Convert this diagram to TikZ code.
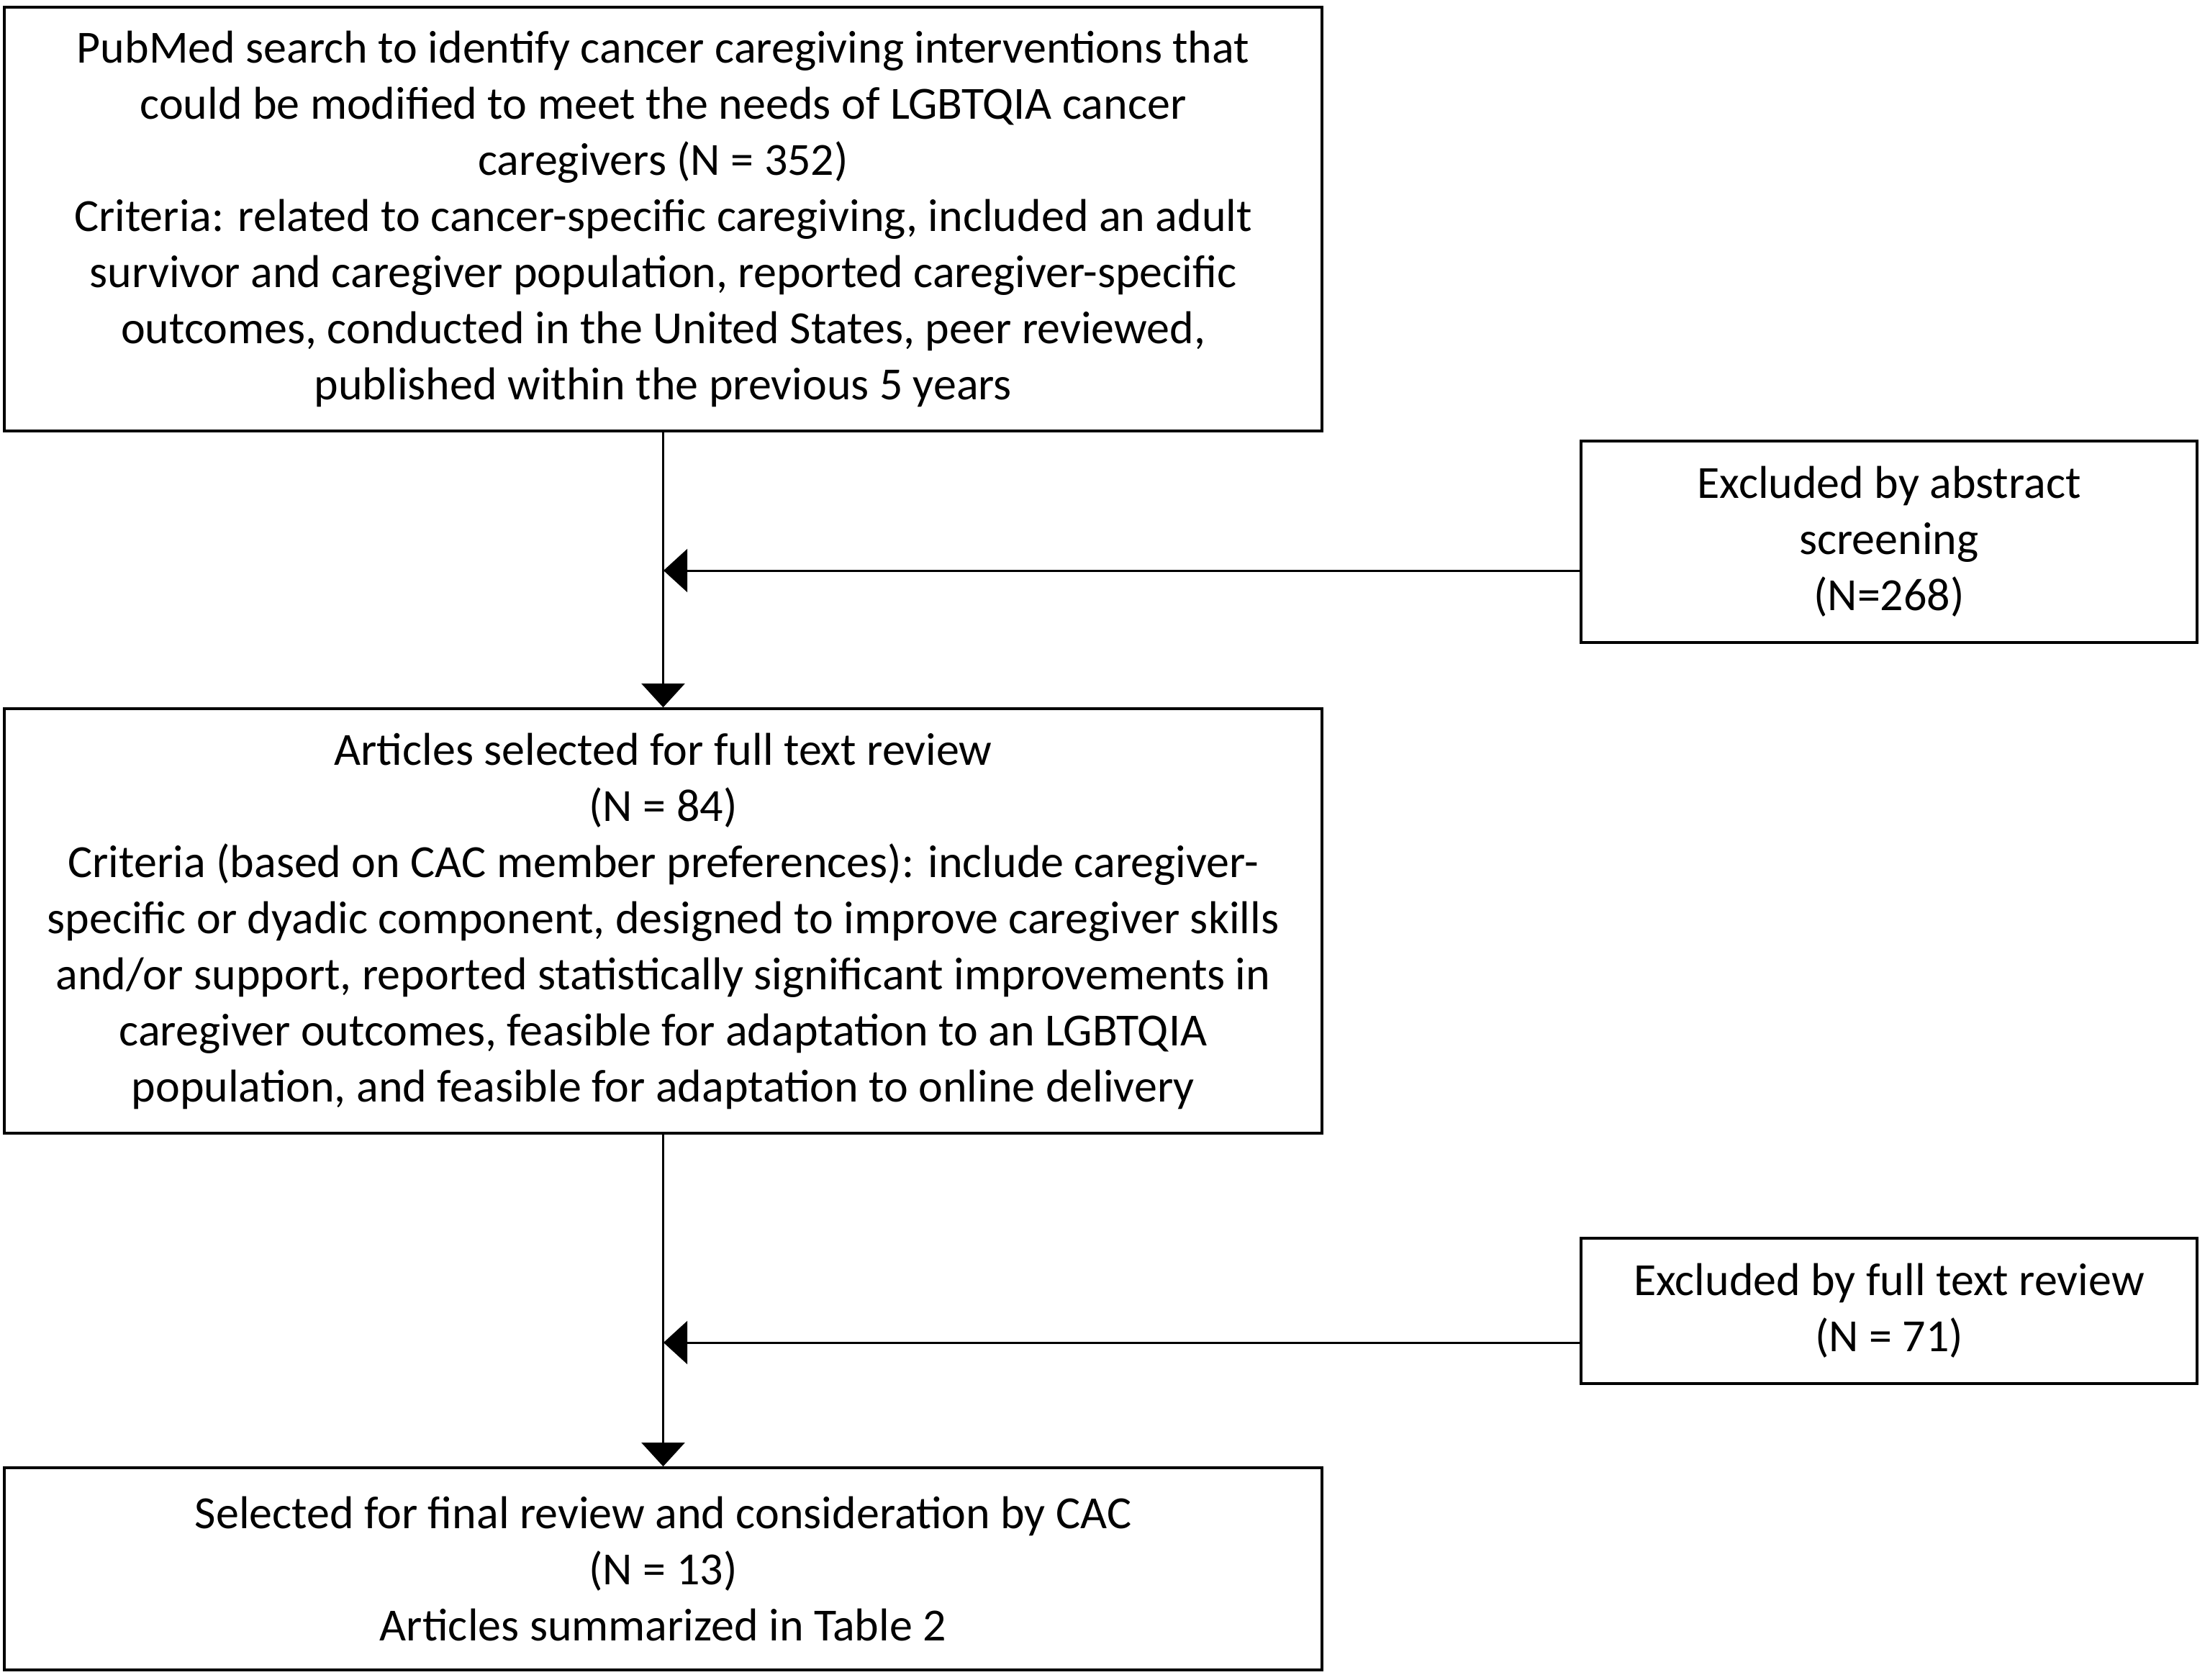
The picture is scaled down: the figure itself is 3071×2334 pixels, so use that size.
\documentclass[tikz,border=0pt]{standalone}
\usepackage{fontspec}
\setmainfont{Carlito}
\usetikzlibrary{arrows.meta}
\begin{document}
\begin{tikzpicture}[x=0.25pt,y=-0.25pt,
  box/.style={draw,line width=0.9pt,inner sep=0pt,align=center,
    font=\fontsize{16}{19.5}\selectfont},
  conn/.style={line width=0.75pt,-{Triangle[length=8.3pt,width=15pt]}}]
\useasboundingbox (0,0) rectangle (3071,2334);
\node[box,minimum width=457.75pt,minimum height=147.25pt] (b1) at (921.5,304.5)
 {PubMed search to identify cancer caregiving interventions that\\
  could be modified to meet the needs of LGBTQIA cancer\\
  caregivers (N = 352)\\
  Criteria: related to cancer-specific caregiving, included an adult\\
  survivor and caregiver population, reported caregiver-specific\\
  outcomes, conducted in the United States, peer reviewed,\\
  published within the previous 5 years};
\node[box,minimum width=214pt,minimum height=70pt] (b2) at (2625,753)
 {Excluded by abstract\\screening\\(N=268)};
\node[box,minimum width=457.75pt,minimum height=147.5pt] (b3) at (921.5,1280)
 {Articles selected for full text review\\
  (N = 84)\\
  Criteria (based on CAC member preferences): include caregiver-\\
  specific or dyadic component, designed to improve caregiver skills\\
  and/or support, reported statistically significant improvements in\\
  caregiver outcomes, feasible for adaptation to an LGBTQIA\\
  population, and feasible for adaptation to online delivery};
\node[box,minimum width=214pt,minimum height=50.5pt] (b4) at (2625,1822)
 {Excluded by full text review\\(N = 71)};
\node[box,minimum width=457.75pt,minimum height=70.25pt] (b5) at (921.5,2180.5)
 {Selected for final review and consideration by CAC\\
  (N = 13)\\
  Articles summarized in Table 2};
\coordinate (j1) at (922,793);
\coordinate (j2) at (922,1866);
\draw[conn] (b1.south) -- (b3.north);
\draw[conn] (b3.south) -- (b5.north);
\draw[conn] (b2.west |- j1) -- (j1);
\draw[conn] (b4.west |- j2) -- (j2);
\end{tikzpicture}
\end{document}
